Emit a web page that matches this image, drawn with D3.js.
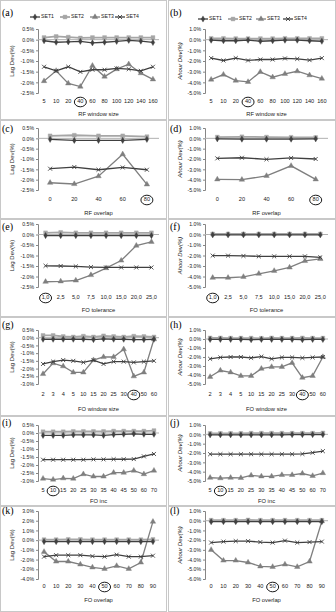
<!DOCTYPE html>
<html lang="en">
<head>
<meta charset="UTF-8">
<title>Deviation charts</title>
<script src="https://d3js.org/d3.v7.min.js"></script>
<style>
  html, body { margin: 0; background: #fff; overflow: hidden; }
  text { font-family: "Liberation Sans", Arial, sans-serif; }
</style>
</head>
<body>
<svg id="svg"></svg>
<script>
const setNames = ['SET1', 'SET2', 'SET3', 'SET4'];

// category labels
const rfWindowCats = ['5', '10', '20', '40', '60', '80', '100', '120', '140', '160'];
const rfOverlapCats = ['0', '20', '40', '60', '80'];
const foTolCats = ['1,0', '2,5', '5,0', '7,5', '10,0', '15,0', '20,0', '25,0'];
const foWindowCats = ['2', '3', '4', '5', '10', '15', '20', '25', '30', '40', '50', '60'];
const foIncCats = ['5', '10', '15', '20', '25', '30', '35', '40', '45', '50', '60', '70'];
const foOverlapCats = ['0', '10', '20', '30', '40', '50', '60', '70', '80', '90'];

// values in %, one row per set (SET1..SET4)
const aData = [
    [-0.05, -0.12, -0.1, -0.08, -0.15, -0.12, -0.08, -0.03, -0.07, -0.13],
    [0.1, 0.15, 0.12, 0.08, 0.1, 0.1, 0.1, 0.1, 0.1, 0.1],
    [-1.94, -1.46, -2.05, -2.2, -1.22, -1.73, -1.38, -1.15, -1.57, -1.86],
    [-1.27, -1.46, -1.27, -1.51, -1.41, -1.41, -1.35, -1.38, -1.46, -1.27]
];
const bData = [
    [-0.05, -0.1, -0.1, -0.05, -0.15, -0.1, -0.05, -0.05, -0.1, -0.15],
    [0.12, 0.12, 0.1, 0.1, 0.1, 0.1, 0.12, 0.12, 0.12, 0.12],
    [-3.74, -3.27, -3.84, -3.96, -3.02, -3.52, -3.2, -2.96, -3.33, -3.65],
    [-1.73, -1.95, -1.73, -1.95, -1.86, -1.86, -1.76, -1.8, -1.92, -1.73]
];
const cData = [
    [-0.05, -0.1, -0.1, -0.1, -0.05],
    [0.12, 0.15, 0.12, 0.12, 0.08],
    [-2.15, -2.21, -1.83, -0.77, -2.23],
    [-1.47, -1.39, -1.52, -1.41, -1.52]
];
const dData = [
    [-0.05, -0.08, -0.08, -0.08, -0.05],
    [0.12, 0.15, 0.12, 0.1, 0.08],
    [-3.97, -4.0, -3.63, -2.66, -3.97],
    [-1.94, -1.88, -2.03, -1.9, -2.0]
];
const eData = [
    [-0.05, -0.05, -0.05, -0.05, -0.05, -0.05, -0.05, -0.05],
    [0.08, 0.1, 0.08, 0.08, 0.08, 0.08, 0.08, 0.08],
    [-2.25, -2.23, -2.19, -1.93, -1.6, -1.24, -0.53, -0.35],
    [-1.49, -1.5, -1.52, -1.55, -1.57, -1.57, -1.57, -1.57]
];
const fData = [
    [-0.03, -0.03, -0.03, -0.03, -0.03, -0.03, -0.03, -0.03],
    [0.05, 0.05, 0.05, 0.05, 0.05, 0.05, 0.05, 0.05],
    [-4.12, -4.12, -4.03, -3.74, -3.46, -3.14, -2.52, -2.33],
    [-2.01, -2.01, -2.04, -2.08, -2.08, -2.08, -2.08, -2.17]
];
const gData = [
    [-0.1, -0.1, -0.1, -0.1, -0.1, -0.12, -0.08, -0.1, -0.1, -0.12, -0.12, -0.1],
    [0.15, 0.15, 0.08, 0.05, 0.1, 0.05, 0.12, 0.08, 0.05, 0.1, 0.08, 0.05],
    [-2.35, -1.65, -1.85, -2.25, -2.25, -1.45, -1.25, -1.25, -0.75, -2.5, -2.25, -0.1],
    [-1.7, -1.55, -1.45, -1.5, -1.6, -1.45, -1.7, -1.55, -1.55, -1.6, -1.55, -1.5]
];
const hData = [
    [-0.05, -0.05, -0.05, -0.05, -0.08, -0.05, -0.05, -0.05, -0.05, -0.08, -0.05, -0.05],
    [0.12, 0.12, 0.1, 0.1, 0.1, 0.08, 0.12, 0.1, 0.1, 0.12, 0.1, 0.1],
    [-4.2, -3.5, -3.7, -4.1, -4.1, -3.3, -3.1, -3.1, -2.65, -4.3, -4.1, -2.0],
    [-2.2, -2.05, -2.0, -2.0, -2.1, -1.95, -2.2, -2.05, -2.05, -2.1, -2.05, -2.0]
];
const iData = [
    [-0.15, -0.15, -0.15, -0.12, -0.12, -0.12, -0.15, -0.1, -0.08, -0.05, -0.08, -0.08],
    [0.08, 0.08, 0.08, 0.1, 0.1, 0.1, 0.1, 0.12, 0.12, 0.12, 0.12, 0.15],
    [-2.85, -2.91, -2.83, -2.85, -2.57, -2.72, -2.72, -2.48, -2.48, -2.35, -2.57, -2.35],
    [-1.67, -1.67, -1.67, -1.67, -1.67, -1.65, -1.65, -1.64, -1.64, -1.63, -1.46, -1.31]
];
const jData = [
    [-0.05, -0.05, -0.05, -0.05, -0.05, -0.05, -0.05, -0.05, -0.03, -0.03, -0.03, -0.03],
    [0.1, 0.1, 0.1, 0.1, 0.12, 0.12, 0.12, 0.12, 0.12, 0.12, 0.12, 0.15],
    [-4.65, -4.7, -4.65, -4.67, -4.4, -4.5, -4.5, -4.35, -4.35, -4.2, -4.45, -4.15],
    [-2.13, -2.13, -2.13, -2.13, -2.13, -2.13, -2.13, -2.13, -2.13, -2.1, -1.97, -1.8]
];
const kData = [
    [-0.15, -0.15, -0.15, -0.15, -0.15, -0.15, -0.15, -0.15, -0.15, -0.15],
    [0.05, 0.05, 0.08, 0.08, 0.05, 0.05, 0.05, 0.05, 0.05, 0.08],
    [-1.2, -2.2, -2.2, -2.5, -2.8, -2.95, -2.65, -2.95, -2.3, 1.9],
    [-1.7, -1.55, -1.55, -1.55, -1.65, -1.7, -1.5, -1.7, -1.7, -1.6]
];
const lData = [
    [-0.1, -0.1, -0.1, -0.1, -0.1, -0.1, -0.1, -0.1, -0.1, -0.1],
    [0.05, 0.05, 0.05, 0.08, 0.05, 0.05, 0.05, 0.05, 0.05, 0.05],
    [-3.0, -4.1, -4.1, -4.3, -4.7, -4.75, -4.5, -4.75, -4.2, -0.05],
    [-2.25, -2.15, -2.1, -2.1, -2.2, -2.25, -2.05, -2.25, -2.2, -2.15]
];

const lagTitle = 'Lag Dev(%)';
const ahourTitle = 'Ahour Dev(%)';
const rowTitles = ['RF window  size', 'RF overlap', 'FO tolerance', 'FO window  size', 'FO inc', 'FO overlap'];
const rowCats = [rfWindowCats, rfOverlapCats, foTolCats, foWindowCats, foIncCats, foOverlapCats];
const rowMarked = ['40', '80', '1,0', '40', '10', '50'];
// y domains [min, max, step] for left and right columns
const leftDomains = [[-2.5, 0.5, 0.5], [-2.5, 0.5, 0.5], [-2.5, 0.5, 0.5], [-3, 0.5, 0.5], [-3, 0.5, 0.5], [-4, 3, 1]];
const rightDomains = [[-5, 1, 1], [-5, 1, 1], [-5, 1, 1], [-5, 1, 1], [-5, 1, 1], [-6, 1, 1]];
const panelData = [[aData, bData], [cData, dData], [eData, fData], [gData, hData], [iData, jData], [kData, lData]];
const letters = [['a', 'b'], ['c', 'd'], ['e', 'f'], ['g', 'h'], ['i', 'j'], ['k', 'l']];

// layout
const W = 336, H = 612;
const cols = [
    { frameX: 0.5, frameW: 166, x0: 38, x1: 159, tickX: 34, titleX: 12, letterX: 2 },
    { frameX: 168.5, frameW: 167, x0: 205, x1: 328, tickX: 201, titleX: 180, letterX: 170 }
];
const rows = [
    { frameY: 0.5, frameH: 119, yTop: 29, yBot: 93, labY: 102, titleY: 114, letterY: 14 },
    { frameY: 120.5, frameH: 98, yTop: 128, yBot: 190, labY: 200, titleY: 213, letterY: 130 },
    { frameY: 219.5, frameH: 97, yTop: 224, yBot: 287, labY: 298, titleY: 310, letterY: 228 },
    { frameY: 317.5, frameH: 98, yTop: 330, yBot: 384, labY: 395, titleY: 409, letterY: 326 },
    { frameY: 416.5, frameH: 89, yTop: 425, yBot: 481, labY: 491, titleY: 501, letterY: 424 },
    { frameY: 506.5, frameH: 105, yTop: 511, yBot: 579, labY: 587, titleY: 600, letterY: 512 }
];

const colors = ['#404040', '#a6a6a6', '#7f7f7f', '#404040'];
const widths = [1.3, 1.8, 1.3, 1.3];
const symbols = [
    d3.symbol(d3.symbolDiamond, 11),
    d3.symbol(d3.symbolSquare, 15),
    d3.symbol(d3.symbolTriangle, 13),
    d3.symbol(d3.symbolTimes || d3.symbolX, 12)
];

const svg = d3.select('#svg').attr('width', W).attr('height', H);

function pct(d) {
    const s = Math.abs(d) < 1e-9 ? '0.0' : d.toFixed(1);
    return s + '%';
}

function drawMarker(sel, i, color) {
    sel.attr('d', symbols[i]())
        .attr('fill', i === 3 ? 'none' : color)
        .attr('stroke', color)
        .attr('stroke-width', i === 3 ? 0.9 : 0.4);
}

rows.forEach((row, r) => {
    cols.forEach((col, c) => {
        const g = svg.append('g');
        const cats = rowCats[r];
        const dom = c === 0 ? leftDomains[r] : rightDomains[r];
        const data = panelData[r][c];

        g.append('rect')
            .attr('x', col.frameX).attr('y', row.frameY)
            .attr('width', col.frameW).attr('height', row.frameH)
            .attr('fill', 'none').attr('stroke', '#c8c8c8').attr('stroke-width', 1);

        const x = d3.scalePoint().domain(cats).range([col.x0, col.x1]).padding(0.5);
        const y = d3.scaleLinear().domain([dom[0], dom[1]]).range([row.yBot, row.yTop]);
        const ticks = d3.range(dom[0], dom[1] + dom[2] / 2, dom[2]);

        // y axis
        const yAxis = g.append('g')
            .attr('transform', `translate(${col.x0},0)`)
            .call(d3.axisLeft(y).tickValues(ticks).tickFormat(pct).tickSize(2).tickPadding(2));
        yAxis.select('.domain').attr('stroke', '#868686');
        yAxis.selectAll('.tick line').attr('stroke', '#868686');
        yAxis.selectAll('text')
            .attr('font-size', 5.2).attr('fill', '#222')
            .style('font-family', '"Liberation Sans", Arial, sans-serif');

        // zero line (category axis)
        g.append('line')
            .attr('x1', col.x0).attr('x2', col.x1)
            .attr('y1', y(0)).attr('y2', y(0))
            .attr('stroke', '#b0b0b0').attr('stroke-width', 1);

        // category labels
        g.selectAll('.cat').data(cats).join('text')
            .attr('x', d => x(d)).attr('y', row.labY)
            .attr('text-anchor', 'middle').attr('dominant-baseline', 'middle')
            .attr('font-size', 5.6).attr('fill', '#222')
            .text(d => d);

        g.append('ellipse')
            .attr('cx', x(rowMarked[r])).attr('cy', row.labY)
            .attr('rx', 6).attr('ry', 4.8)
            .attr('fill', 'none').attr('stroke', '#000').attr('stroke-width', 0.9);

        // axis titles
        g.append('text')
            .attr('x', (col.x0 + col.x1) / 2).attr('y', row.titleY)
            .attr('text-anchor', 'middle').attr('dominant-baseline', 'middle')
            .attr('font-size', 5.8).attr('fill', '#222')
            .text(rowTitles[r]);
        g.append('text')
            .attr('transform', `translate(${col.titleX},${(row.yTop + row.yBot) / 2}) rotate(-90)`)
            .attr('text-anchor', 'middle').attr('dominant-baseline', 'middle')
            .attr('font-size', 6).attr('fill', '#222')
            .attr('font-style', c === 1 ? 'italic' : 'normal')
            .text(c === 0 ? lagTitle : ahourTitle);

        g.append('text')
            .attr('x', col.letterX).attr('y', row.letterY)
            .attr('dominant-baseline', 'middle')
            .attr('font-size', 10).style('font-family', '"Liberation Serif", "Times New Roman", serif')
            .text(`(${letters[r][c]})`);

        // series: draw light ones first
        const line = d3.line().x((d, i) => x(cats[i])).y(d => y(d));
        [1, 2, 3, 0].forEach(s => {
            g.append('path')
                .attr('d', line(data[s]))
                .attr('fill', 'none').attr('stroke', colors[s]).attr('stroke-width', widths[s]);
            g.selectAll(null).data(data[s]).join('path')
                .attr('transform', (d, i) => `translate(${x(cats[i])},${y(d)})`)
                .call(sel => drawMarker(sel, s, colors[s]));
        });

        // legend on top row
        if (r === 0) {
            const lx = c === 0 ? [30, 60, 90, 115] : [198, 228, 256, 283];
            const ly = c === 0 ? 17 : 19;
            setNames.forEach((name, s) => {
                g.append('line')
                    .attr('x1', lx[s]).attr('x2', lx[s] + 10)
                    .attr('y1', ly).attr('y2', ly)
                    .attr('stroke', colors[s]).attr('stroke-width', widths[s]);
                g.append('path')
                    .attr('transform', `translate(${lx[s] + 5},${ly})`)
                    .call(sel => drawMarker(sel, s, colors[s]));
                g.append('text')
                    .attr('x', lx[s] + 11).attr('y', ly)
                    .attr('dominant-baseline', 'middle')
                    .attr('font-size', 5.2).attr('fill', '#222')
                    .text(name);
            });
        }
    });
});
</script>
</body>
</html>
